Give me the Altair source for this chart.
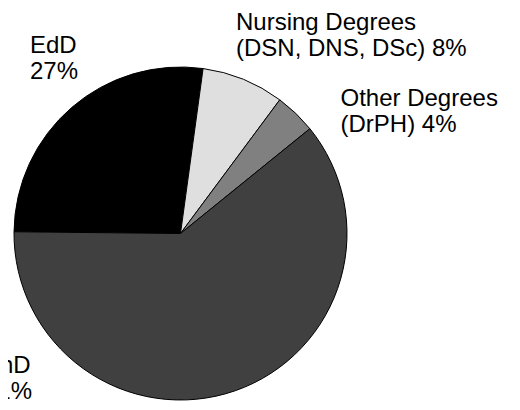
import altair as alt
import pandas as pd

# data
categories = ["EdD", "Nursing Degrees", "Other Degrees", "PhD"]
subtitles = ["", "(DSN, DNS, DSc)", "(DrPH)", ""]
values = [27, 8, 4, 61]
order = [0, 1, 2, 3]

# styles
colors = ["#000000", "#dfdfdf", "#808080", "#404040"]

df = pd.DataFrame({
    "category": categories,
    "sub": subtitles,
    "value": values,
    "idx": order,
})

start = 270.6 * 3.141592653589793 / 180
full = 2 * 3.141592653589793

base = alt.Chart(df)

pie = base.mark_arc(outerRadius=166.5, stroke="#000000", strokeWidth=1).encode(
    theta=alt.Theta("value:Q", stack=True, scale=alt.Scale(range=[start, start + full])),
    order=alt.Order("idx:Q"),
    color=alt.Color("category:N", scale=alt.Scale(domain=categories, range=colors), legend=None),
    x=alt.value(172.5),
    y=alt.value(225.5),
)

labels_base = base.transform_calculate(
    line1="datum.category",
    line2="(datum.sub != '' ? datum.sub + ' ' : '') + datum.value + '%'",
).transform_calculate(
    lines="[datum.line1, datum.line2]"
)

text_style = dict(align="left", baseline="alphabetic", font="Liberation Sans",
                  fontSize=24, lineHeight=26, color="#000000")

label_pos = {
    "EdD": (22, 45),
    "Nursing Degrees": (228, 22),
    "Other Degrees": (332.5, 98),
    "PhD": (-24, 365),
}

layers = [pie]
for cat in categories:
    lx, ly = label_pos[cat]
    layers.append(
        labels_base.transform_filter(alt.datum.category == cat)
        .mark_text(**text_style)
        .encode(text=alt.Text("lines:N"), x=alt.value(lx), y=alt.value(ly))
    )

chart = alt.layer(*layers).properties(
    width=504, height=394, autosize=alt.AutoSizeParams(type="none"), padding=0
).configure_view(stroke=None)

chart.save("out.html", embed_options={"renderer": "svg", "actions": False})
